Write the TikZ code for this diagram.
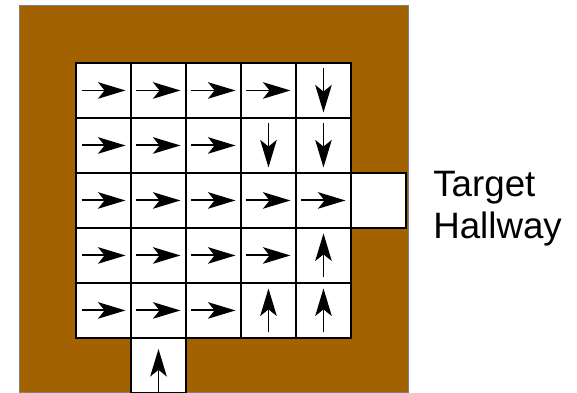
\documentclass[tikz,border=0pt]{standalone}
\usepackage{fontspec}
\setmainfont{Liberation Sans}
\usetikzlibrary{positioning,arrows.meta}
\definecolor{WallBrown}{RGB}{163,98,0}
\tikzset{
  cell/.style={draw=black,line width=1pt,fill=white,minimum size=1cm,
    inner sep=0pt,outer sep=0pt},
  policy/.style={-{Stealth[length=5mm,width=3mm,inset=1.2mm]},line width=1pt},
  note/.style={align=left,inner sep=0pt,font=\fontsize{19}{22}\selectfont}
}

\begin{document}
\begin{tikzpicture}
  \useasboundingbox (-0.382,0) rectangle (10.11,7.145);
  \fill[WallBrown,draw=gray,line width=0.5pt] (-0.02,0) rectangle (7.05,7.04);
  % floor cells
  \foreach \r in {1,...,5}
    \foreach \c in {1,...,5}
      \node[cell] (c-\r-\c) at (\c+0.5,6.5-\r) {};
  \node[cell] (exit) at (6.5,3.5) {};
  \node[cell] (entry) at (2.5,0.5) {};
  % policy arrows
  \foreach \r/\c/\d in {1/1/0,1/2/0,1/3/0,1/4/0,1/5/-90,
      2/1/0,2/2/0,2/3/0,2/4/-90,2/5/-90,
      3/1/0,3/2/0,3/3/0,3/4/0,3/5/0,
      4/1/0,4/2/0,4/3/0,4/4/0,4/5/90,
      5/1/0,5/2/0,5/3/0,5/4/90,5/5/90}
    \draw[policy] (c-\r-\c.center) ++(\d+180:0.4) -- ++(\d:0.8);
  \draw[policy] (entry.south) -- ++(0,0.8);
  \node[note,anchor=north west] (target) at (7.49,4.04) {Target\\Hallway};
\end{tikzpicture}
\end{document}
